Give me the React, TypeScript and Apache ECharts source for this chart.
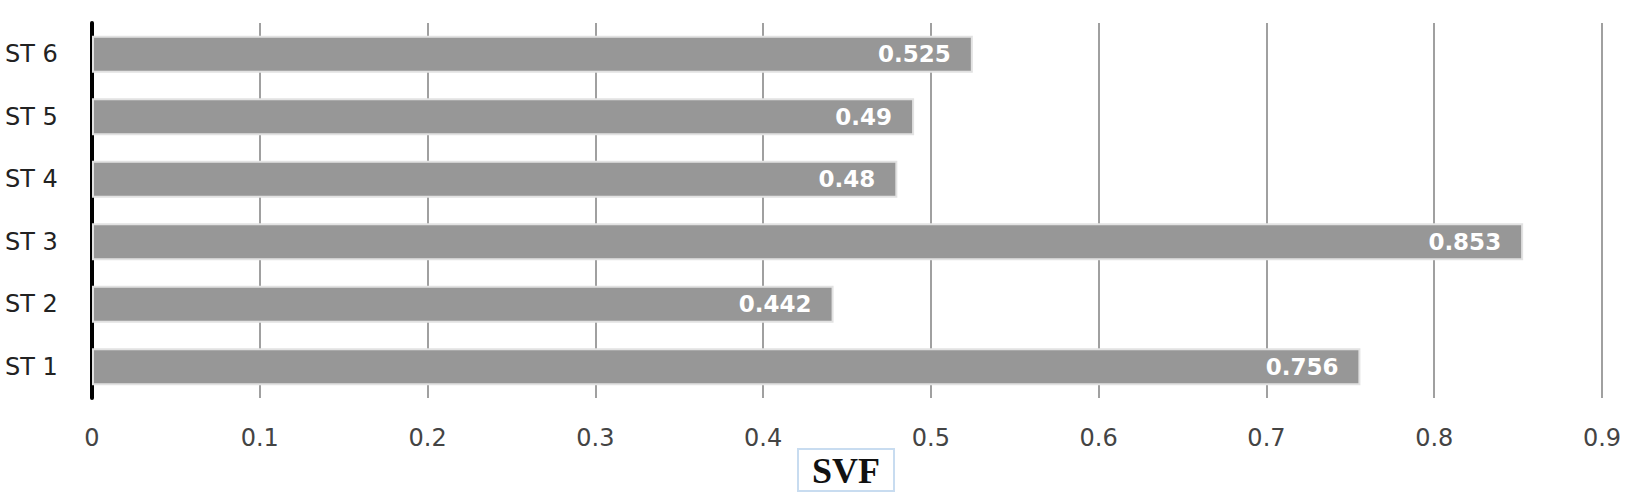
import { useEffect, useRef } from 'react';
import * as echarts from 'echarts';

const categories = ['ST 1', 'ST 2', 'ST 3', 'ST 4', 'ST 5', 'ST 6'];
const svfValues = [0.756, 0.442, 0.853, 0.48, 0.49, 0.525];
const axisTitle = 'SVF';

export default function App() {
  const chartRef = useRef<HTMLDivElement>(null);

  useEffect(() => {
    document.body.style.margin = '0';
    if (!chartRef.current) return;
    const chart = echarts.init(chartRef.current, undefined, { renderer: 'svg' });

    chart.setOption({
      animation: false,
      backgroundColor: '#ffffff',
      title: {
        text: axisTitle,
        left: 798,
        top: 449,
        padding: [4, 14, 2, 14],
        borderColor: '#c8dcf0',
        borderWidth: 2,
        textStyle: {
          fontFamily: 'Liberation Serif',
          fontWeight: 'bold',
          fontSize: 36,
          color: '#111',
        },
      },
      grid: { left: 92, right: 33, top: 23, bottom: 94 },
      xAxis: {
        type: 'value',
        min: 0,
        max: 0.9,
        interval: 0.1,
        axisLine: { show: false },
        axisTick: { show: false },
        axisLabel: {
          color: '#444',
          fontSize: 24,
          fontFamily: 'DejaVu Sans',
          margin: 28,
        },
        splitLine: { lineStyle: { color: '#a0a0a0', width: 2 } },
      },
      yAxis: {
        type: 'category',
        data: categories,
        axisLine: { lineStyle: { color: '#000', width: 4 } },
        axisTick: { show: false },
        axisLabel: {
          color: '#222',
          fontSize: 24,
          fontFamily: 'DejaVu Sans',
          align: 'left',
          margin: 87,
        },
      },
      series: [
        {
          type: 'bar',
          data: svfValues,
          barCategoryGap: '41%',
          itemStyle: {
            color: '#979797',
            borderColor: '#e2e2e2',
            borderWidth: 2,
          },
          label: {
            show: true,
            position: 'insideRight',
            distance: 22,
            color: '#fff',
            fontSize: 23,
            fontWeight: 'bold',
            fontFamily: 'DejaVu Sans',
          },
        },
      ],
    });

    return () => chart.dispose();
  }, []);

  return <div ref={chartRef} style={{ width: 1635, height: 492 }} />;
}
